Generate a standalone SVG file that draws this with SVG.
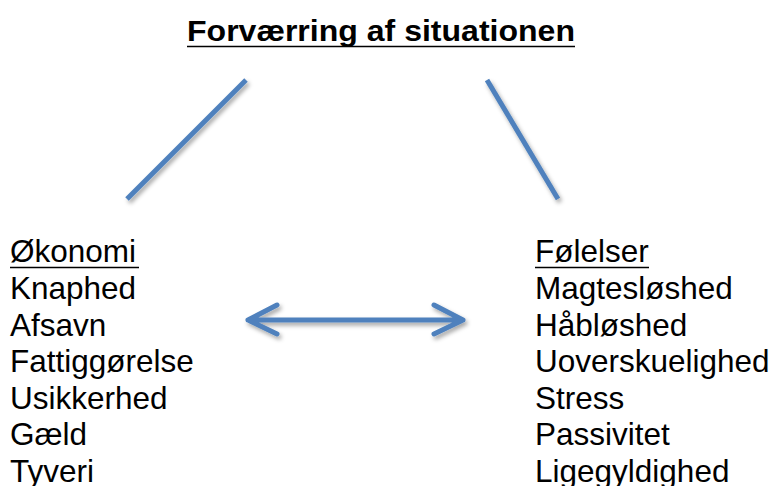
<svg xmlns="http://www.w3.org/2000/svg" width="775" height="486" viewBox="0 0 775 486">
<style>
.t{font-family:"Liberation Sans",Arial,sans-serif;font-size:31.5px;fill:#000}
.title{font-family:"Liberation Sans",Arial,sans-serif;font-size:30px;font-weight:bold;fill:#000}
.ln{stroke:#4F81BD;stroke-width:5;fill:none;stroke-linecap:butt}
.ar{stroke:#4F81BD;stroke-width:5;fill:none;stroke-linecap:round;stroke-linejoin:round}
.ul{stroke:#000;stroke-width:1.5}
</style>
<defs>
<filter id="sh" x="-20%" y="-20%" width="140%" height="160%">
<feDropShadow dx="2" dy="3" stdDeviation="2" flood-color="#000" flood-opacity="0.35"/>
</filter>
</defs>
<rect width="775" height="486" fill="#fff"/>
<g id="title">
<text class="title" x="187" y="41" textLength="388" lengthAdjust="spacingAndGlyphs">Forværring af situationen</text>
<line class="ul" x1="187" y1="46.5" x2="575" y2="46.5"/>
</g>
<g id="okonomi">
<text class="t" x="10" y="262">Økonomi</text>
<line class="ul" x1="10" y1="267.5" x2="139" y2="267.5"/>
<text class="t" x="10" y="299">Knaphed</text>
<text class="t" x="10" y="335.5">Afsavn</text>
<text class="t" x="10" y="372">Fattiggørelse</text>
<text class="t" x="10" y="408.5">Usikkerhed</text>
<text class="t" x="10" y="445">Gæld</text>
<text class="t" x="10" y="481.5">Tyveri</text>
</g>
<g id="folelser">
<text class="t" x="535" y="262">Følelser</text>
<line class="ul" x1="535" y1="267.5" x2="649" y2="267.5"/>
<text class="t" x="535" y="299">Magtesløshed</text>
<text class="t" x="535" y="335.5">Håbløshed</text>
<text class="t" x="535" y="372">Uoverskuelighed</text>
<text class="t" x="535" y="408.5">Stress</text>
<text class="t" x="535" y="445">Passivitet</text>
<text class="t" x="535" y="481.5">Ligegyldighed</text>
</g>
<g id="connectors" filter="url(#sh)">
<line class="ln" x1="127" y1="199" x2="246" y2="80"/>
<line class="ln" x1="487" y1="80" x2="558" y2="199"/>
<path class="ar" d="M248,320 H463 M277,305 L248,320 L277,334 M434,305 L463,320 L434,334"/>
</g>
</svg>
